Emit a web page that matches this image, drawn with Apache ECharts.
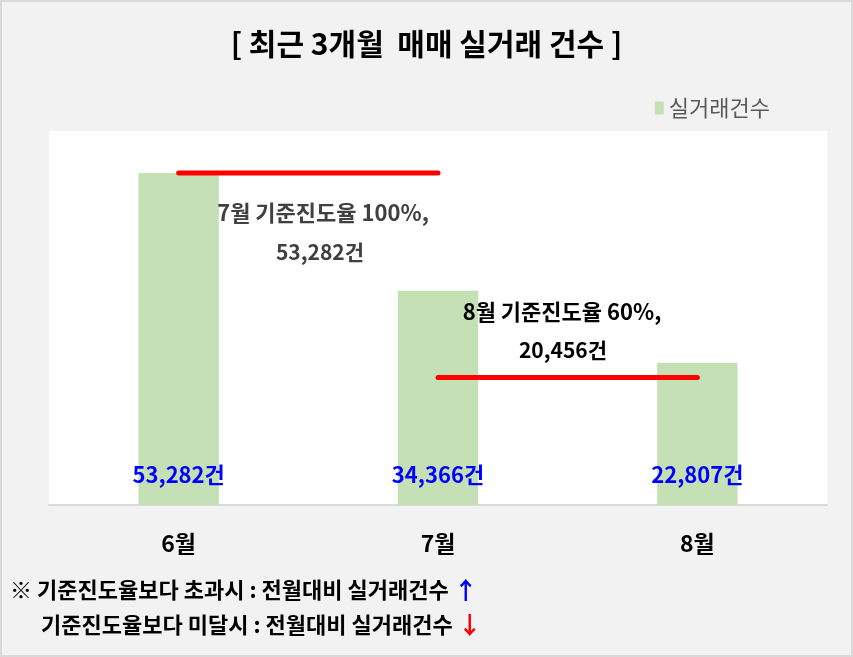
<!DOCTYPE html>
<html>
<head>
<meta charset="utf-8">
<script src="https://cdn.jsdelivr.net/npm/echarts@6/dist/echarts.min.js"></script>
<style>
  html, body { margin: 0; padding: 0; background: #f2f2f2; }
  #main { width: 853px; height: 657px; }
</style>
</head>
<body>
<div id="main"></div>
<script>
var months = ['6월', '7월', '8월'];
var dealCounts = [53282, 34366, 22807];
// 기준진도율 선 (6월→7월, 7월→8월)
var julyBaseline = [53282, 53282, null];
var augBaseline = [null, 20456, 20456];

var FONT = '"Noto Sans CJK KR", "Noto Sans", sans-serif';

function fmt(v) {
    return v.toString().replace(/\B(?=(\d{3})+(?!\d))/g, ',');
}

var chart = echarts.init(document.getElementById('main'));
var option = {
    backgroundColor: '#f2f2f2',
    textStyle: { fontFamily: FONT },
    title: {
        text: '[ 최근 3개월  매매 실거래 건수 ]',
        left: 'center',
        top: 24,
        textStyle: { fontSize: 30, fontWeight: 'bold', color: '#000', fontFamily: FONT }
    },
    legend: {
        data: ['실거래건수'],
        right: 78,
        top: 92,
        itemWidth: 9,
        itemHeight: 13,
        itemGap: 6,
        icon: 'rect',
        textStyle: { fontSize: 22, color: '#595959', fontFamily: FONT }
    },
    grid: {
        left: 49,
        right: 26,
        top: 131,
        bottom: 152,
        show: true,
        backgroundColor: '#ffffff',
        borderWidth: 0
    },
    xAxis: {
        type: 'category',
        data: months,
        axisLine: { lineStyle: { color: '#d9d9d9', width: 2 } },
        axisTick: { show: false },
        axisLabel: { margin: 27, fontSize: 23, fontWeight: 'bold', color: '#000', fontFamily: FONT }
    },
    yAxis: {
        type: 'value',
        min: 0,
        max: 60000,
        show: false
    },
    series: [
        {
            name: '실거래건수',
            type: 'bar',
            data: dealCounts,
            barWidth: '31%',
            itemStyle: { color: '#c5e0b4' },
            label: {
                show: true,
                position: 'insideBottom',
                distance: 19,
                color: '#0000ff',
                fontSize: 22,
                fontWeight: 'bold',
                fontFamily: FONT,
                formatter: function (p) { return fmt(p.value) + '건'; }
            },
            z: 2
        },
        {
            name: '7월기준',
            type: 'line',
            data: julyBaseline,
            symbol: 'none',
            lineStyle: { color: '#ff0000', width: 5, cap: 'round' },
            z: 3
        },
        {
            name: '8월기준',
            type: 'line',
            data: augBaseline,
            symbol: 'none',
            lineStyle: { color: '#ff0000', width: 5, cap: 'round' },
            z: 3
        }
    ],
    graphic: [
        {
            type: 'rect',
            shape: { x: 1, y: 1, width: 851, height: 655 },
            style: { fill: 'none', stroke: '#d9d9d9', lineWidth: 2 },
            silent: true,
            z: 100
        },
        {
            type: 'text', z: 100,
            x: 323, y: 213,
            style: {
                text: '7월 기준진도율 100%,',
                align: 'center', verticalAlign: 'middle',
                font: 'bold 22px ' + FONT, fill: '#404040'
            }
        },
        {
            type: 'text', z: 100,
            x: 320, y: 252,
            style: {
                text: '53,282건',
                align: 'center', verticalAlign: 'middle',
                font: 'bold 21px ' + FONT, fill: '#404040'
            }
        },
        {
            type: 'text', z: 100,
            x: 562, y: 312,
            style: {
                text: '8월 기준진도율 60%,',
                align: 'center', verticalAlign: 'middle',
                font: 'bold 22px ' + FONT, fill: '#000'
            }
        },
        {
            type: 'text', z: 100,
            x: 563, y: 350,
            style: {
                text: '20,456건',
                align: 'center', verticalAlign: 'middle',
                font: 'bold 21px ' + FONT, fill: '#000'
            }
        },
        {
            type: 'text', z: 100,
            x: 10, y: 590,
            style: {
                text: '※ 기준진도율보다 초과시 : 전월대비 실거래건수 {up|↑}',
                verticalAlign: 'middle',
                font: 'bold 22px ' + FONT, fill: '#000',
                rich: { up: { fill: '#0000ff', font: 'bold 24px ' + FONT } }
            }
        },
        {
            type: 'text', z: 100,
            x: 41, y: 625,
            style: {
                text: '기준진도율보다 미달시 : 전월대비 실거래건수 {down|↓}',
                verticalAlign: 'middle',
                font: 'bold 22px ' + FONT, fill: '#000',
                rich: { down: { fill: '#ff0000', font: 'bold 24px ' + FONT } }
            }
        }
    ]
};
chart.setOption(option);
</script>
</body>
</html>
